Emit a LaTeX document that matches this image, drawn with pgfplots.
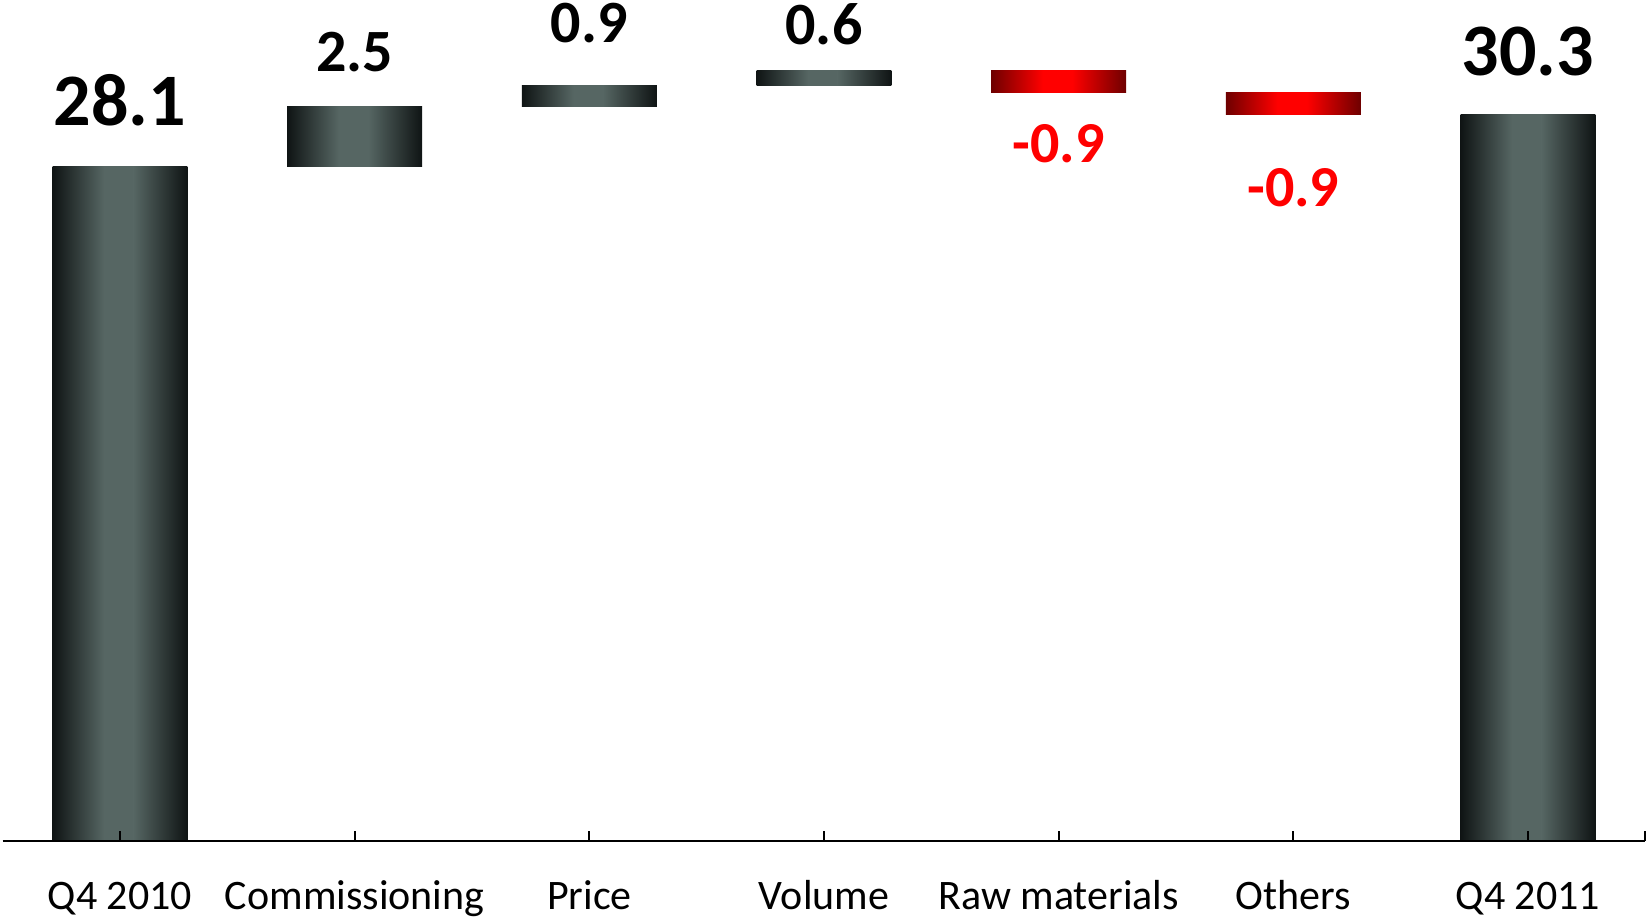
\documentclass[border=0pt]{standalone}
\usepackage{fontspec}
\setmainfont{Carlito}
\usepackage{pgfplots}
\pgfplotsset{compat=1.18}
\definecolor{gdark}{HTML}{0F1414}
\definecolor{gmid}{HTML}{566663}
\definecolor{rdark}{HTML}{6E0000}
\definecolor{rmid}{HTML}{FF0000}
\pgfplotsset{
  gL/.style={draw=none, mark=none, forget plot, left color=gdark, right color=gmid},
  gM/.style={draw=none, mark=none, forget plot, left color=gmid, right color=gmid},
  gR/.style={draw=none, mark=none, forget plot, left color=gmid, right color=gdark},
  rL/.style={draw=none, mark=none, forget plot, left color=rdark, right color=rmid},
  rM/.style={draw=none, mark=none, forget plot, left color=rmid, right color=rmid},
  rR/.style={draw=none, mark=none, forget plot, left color=rmid, right color=rdark},
}
% #1 colour (g/r), #2 left edge, #3 plateau start, #4 plateau end, #5 right edge,
% #6 bar base value, #7 bar top value, #8/#9 plateau fill extent
\newcommand{\wfbar}[9]{%
  \addplot[#1M] coordinates {(#8,#6) (#9,#6) (#9,#7) (#8,#7)};
  \addplot[#1L] coordinates {(#2,#6) (#3,#6) (#3,#7) (#2,#7)};
  \addplot[#1R] coordinates {(#4,#6) (#5,#6) (#5,#7) (#4,#7)};
}
\begin{document}
\begin{tikzpicture}
\path[use as bounding box] (-1.35pt,-39.5pt) rectangle (821.65pt,420.5pt);
\begin{axis}[
  at={(0pt,0pt)}, anchor=south west,
  scale only axis, width=821.3pt, height=420.5pt,
  xmin=-0.5, xmax=6.5, ymin=0, ymax=35.06,
  axis x line*=bottom, axis y line=none,
  xtick={0,...,6},
  xticklabels={Q4 2010,Commissioning,Price,Volume,Raw materials,Others,Q4 2011},
  extra x ticks={6.5}, extra x tick labels={},
  xtick align=inside, major tick length=5pt,
  x axis line style={line width=1.1pt,-},
  tick style={line width=1pt,black},
  xticklabel style={anchor=base, yshift=-34.5pt, inner sep=0pt, font=\fontsize{21}{25}\selectfont},
  axis on top, clip=false,
]
% waterfall bars (width 0.575): base value -> top value
% Q4 2010: 0 -> 28.1
\wfbar{g}{-0.2875}{-0.068}{0.0575}{0.2875}{0}{28.1}{-0.072}{0.062}
% Commissioning: 28.1 -> 30.6 (+2.5)
\wfbar{g}{0.7125}{0.932}{1.0575}{1.2875}{28.1}{30.6}{0.928}{1.062}
% Price: 30.6 -> 31.5 (+0.9)
\wfbar{g}{1.7125}{1.932}{2.0575}{2.2875}{30.6}{31.5}{1.928}{2.062}
% Volume: 31.5 -> 32.1 (+0.6)
\wfbar{g}{2.7125}{2.932}{3.0575}{3.2875}{31.5}{32.1}{2.928}{3.062}
% Raw materials: 32.1 -> 31.2 (-0.9)
\wfbar{r}{3.7125}{3.932}{4.0575}{4.2875}{31.2}{32.1}{3.928}{4.062}
% Others: 31.2 -> 30.3 (-0.9)
\wfbar{r}{4.7125}{4.932}{5.0575}{5.2875}{30.3}{31.2}{4.928}{5.062}
% Q4 2011: 0 -> 30.3
\wfbar{g}{5.7125}{5.932}{6.0575}{6.2875}{0}{30.3}{5.928}{6.062}
% value labels
\addplot[draw=none, mark=none, nodes near coords, point meta=explicit symbolic,
  nodes near coords align=center,
  every node near coord/.append style={inner sep=0pt, text=black, font=\fontsize{37}{40}\selectfont\bfseries}]
  coordinates {(0,30.89)[28.1] (6,32.93)[30.3]};
\addplot[draw=none, mark=none, nodes near coords, point meta=explicit symbolic,
  nodes near coords align=center,
  every node near coord/.append style={inner sep=0pt, text=black, font=\fontsize{30}{34}\selectfont\bfseries}]
  coordinates {(1,32.87)[2.5] (2,34.08)[0.9] (3,34.06)[0.6]};
\addplot[draw=none, mark=none, nodes near coords, point meta=explicit symbolic,
  nodes near coords align=center,
  every node near coord/.append style={inner sep=0pt, text=rmid, font=\fontsize{29}{33}\selectfont\bfseries}]
  coordinates {(4,29.07)[-0.9] (5,27.24)[-0.9]};
\end{axis}
\end{tikzpicture}
\end{document}
